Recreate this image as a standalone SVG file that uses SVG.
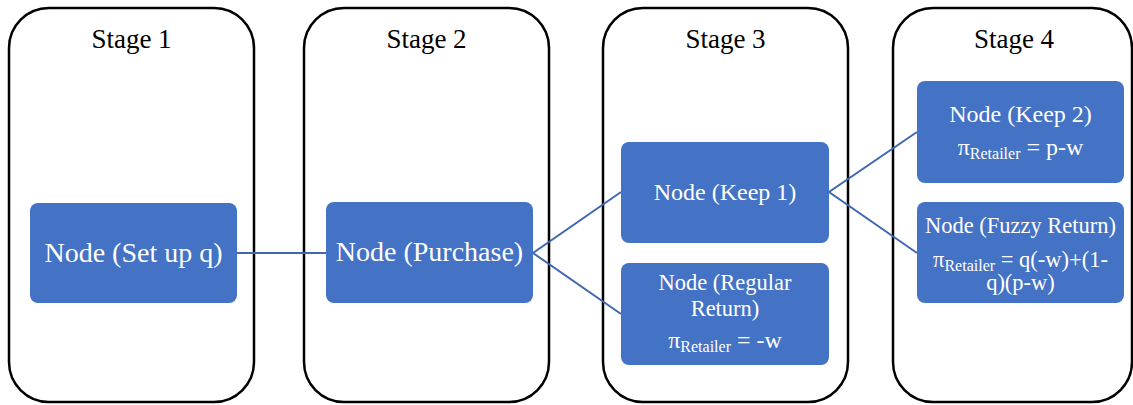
<svg xmlns="http://www.w3.org/2000/svg" width="1133" height="405" viewBox="0 0 1133 405">
<style>
.stage{fill:#fff;stroke:#000;stroke-width:2.5}
.node{fill:#4472C4;stroke:none}
text{font-family:'Liberation Serif','DejaVu Serif',serif;text-anchor:middle}
.st{font-size:27px;fill:#000}
.nt{fill:#fff}
.sub{font-size:16px}
.conn{stroke:#4068B0;stroke-width:2;fill:none}
</style>
<g id="stage1"><rect class="stage" x="9" y="8" width="245" height="394" rx="40"/><text class="st" x="131.5" y="48">Stage 1</text></g>
<g id="stage2"><rect class="stage" x="304" y="8" width="245" height="394" rx="40"/><text class="st" x="426.5" y="48">Stage 2</text></g>
<g id="stage3"><rect class="stage" x="603" y="8" width="245" height="394" rx="40"/><text class="st" x="725.5" y="48">Stage 3</text></g>
<g id="stage4"><rect class="stage" x="893" y="8" width="239" height="394" rx="40"/><text class="st" x="1014" y="48">Stage 4</text></g>
<g id="connectors">
<line class="conn" x1="237" y1="253" x2="326" y2="253"/>
<polyline class="conn" points="621,192 533,253 621,314"/>
<polyline class="conn" points="917,132 829,192 917,253"/>
</g>
<g id="node-setup"><rect class="node" x="30" y="203" width="207" height="100" rx="8"/><text class="nt" x="133.5" y="262" font-size="28">Node (Set up q)</text></g>
<g id="node-purchase"><rect class="node" x="326" y="202" width="207" height="101" rx="8"/><text class="nt" x="429.5" y="261" font-size="28">Node (Purchase)</text></g>
<g id="node-keep1"><rect class="node" x="621" y="142" width="208" height="101" rx="8"/><text class="nt" x="725" y="200" font-size="24">Node (Keep 1)</text></g>
<g id="node-regular"><rect class="node" x="621" y="263" width="208" height="102" rx="8"/>
<text class="nt" x="725" y="290" font-size="22.5">Node (Regular</text>
<text class="nt" x="725" y="316" font-size="22.5">Return)</text>
<text class="nt" x="725" y="348" font-size="24">π<tspan class="sub" dy="4">Retailer</tspan><tspan dy="-4"> = -w</tspan></text></g>
<g id="node-keep2"><rect class="node" x="917" y="81" width="207" height="102" rx="8"/>
<text class="nt" x="1020.5" y="122" font-size="24">Node (Keep 2)</text>
<text class="nt" x="1020.5" y="155" font-size="24">π<tspan class="sub" dy="4">Retailer</tspan><tspan dy="-4"> = p-w</tspan></text></g>
<g id="node-fuzzy"><rect class="node" x="917" y="202" width="207" height="101" rx="8"/>
<text class="nt" x="1020.5" y="233" font-size="22.5">Node (Fuzzy Return)</text>
<text class="nt" x="1020.5" y="267" font-size="22.5">π<tspan class="sub" dy="4">Retailer</tspan><tspan dy="-4"> = q(-w)+(1-</tspan><tspan x="1020.5" dy="23">q)(p-w)</tspan></text></g>
</svg>
